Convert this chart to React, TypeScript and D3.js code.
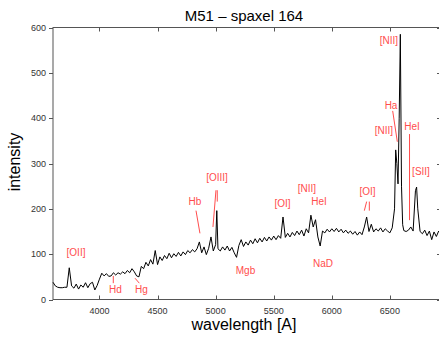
import React, { useEffect, useRef } from 'react';
import * as d3 from 'd3';

const wavelengths = [
  3600, 3620, 3640, 3660, 3680, 3700, 3720, 3740, 3760, 3780, 3800, 3820, 3840, 3860, 3880, 3900, 3920, 3940, 3960, 3980,
  4000, 4020, 4040, 4060, 4080, 4100, 4120, 4140, 4160, 4180, 4200, 4220, 4240, 4260, 4280, 4300, 4320, 4340, 4360, 4380,
  4400, 4420, 4440, 4460, 4480, 4500, 4520, 4540, 4560, 4580, 4600, 4620, 4640, 4660, 4680, 4700, 4720, 4740, 4760, 4780,
  4800, 4820, 4840, 4860, 4880, 4900, 4920, 4940, 4960, 4980, 5000, 5010, 5020, 5040, 5060, 5080, 5100, 5120, 5140, 5160,
  5180, 5200, 5220, 5240, 5260, 5280, 5300, 5320, 5340, 5360, 5380, 5400, 5420, 5440, 5460, 5480, 5500, 5520, 5540, 5560,
  5580, 5600, 5620, 5640, 5660, 5680, 5700, 5720, 5740, 5760, 5780, 5800, 5820, 5840, 5860, 5880, 5900, 5920, 5940, 5960,
  5980, 6000, 6020, 6040, 6060, 6080, 6100, 6120, 6140, 6160, 6180, 6200, 6220, 6240, 6260, 6280, 6300, 6320, 6340, 6360,
  6380, 6400, 6420, 6440, 6460, 6480, 6500, 6520, 6540, 6550, 6560, 6570, 6580, 6590, 6600, 6610, 6620, 6640, 6660, 6680,
  6700, 6720, 6730, 6740, 6760, 6780, 6800, 6820, 6840, 6860, 6880, 6900, 6920, 6940,
];

const intensities = [
  38, 30, 27, 26, 26, 27, 27, 70, 30, 25, 34, 23, 32, 27, 37, 26, 35, 38, 21, 31,
  45, 58, 52, 57, 51, 52, 59, 54, 59, 56, 61, 57, 64, 59, 68, 61, 52, 50, 73, 68,
  82, 74, 88, 78, 108, 77, 94, 86, 97, 90, 102, 92, 101, 95, 104, 96, 105, 99, 108, 103,
  110, 105, 112, 127, 103, 116, 99, 113, 138, 107, 121, 196, 112, 107, 116, 109, 118, 107, 115, 103,
  93, 119, 132, 117, 127, 120, 131, 123, 134, 125, 135, 127, 137, 129, 138, 131, 140, 132, 141, 135,
  182, 137, 146, 138, 148, 141, 151, 143, 153, 140, 156, 147, 186, 160, 176, 138, 118, 151, 147, 155,
  149, 156, 150, 157, 149, 155, 147, 153, 146, 151, 144, 150, 142, 149, 143, 160, 182, 150, 166, 149,
  156, 151, 158, 149, 156, 151, 147, 158, 200, 330, 300, 255, 400, 585, 250, 165, 152, 150, 153, 160,
  151, 240, 248, 200, 150, 145, 153, 141, 151, 132, 149, 139, 151, 145,
];

const xTicks = [4000, 4500, 5000, 5500, 6000, 6500];
const yTicks = [0, 100, 200, 300, 400, 500, 600];

// line identifications: label text and where it sits, in [A] / intensity
const lineLabels = [
  { text: '[OII]', w: 3798, i: 97 },
  { text: 'Hd', w: 4138, i: 14 },
  { text: 'Hg', w: 4362, i: 14 },
  { text: 'Hb', w: 4822, i: 208 },
  { text: '[OIII]', w: 5012, i: 261 },
  { text: 'Mgb', w: 5257, i: 56 },
  { text: '[OI]', w: 5576, i: 204 },
  { text: '[NII]', w: 5786, i: 237 },
  { text: 'HeI', w: 5890, i: 208 },
  { text: 'NaD', w: 5924, i: 72 },
  { text: '[OI]', w: 6307, i: 230 },
  { text: '[NII]', w: 6492, i: 563 },
  { text: 'Ha', w: 6510, i: 420 },
  { text: '[NII]', w: 6449, i: 365 },
  { text: 'HeI', w: 6690, i: 374 },
  { text: '[SII]', w: 6768, i: 274 },
];

// pointer lines from labels to features: [w1, i1, w2, i2]
const pointers = [
  [4119, 52, 4119, 36],
  [4306, 47, 4343, 36],
  [4831, 196, 4865, 146],
  [5003, 241, 4977, 160],
  [5014, 241, 5014, 216],
  [6300, 216, 6280, 196],
  [6323, 216, 6323, 196],
  [6524, 416, 6564, 348],
  [6669, 365, 6669, 175],
];

export default function App() {
  const svgRef = useRef<SVGSVGElement>(null);
  const width = 439;
  const height = 338;

  useEffect(() => {
    if (!svgRef.current) return;
    const svg = d3.select(svgRef.current);
    svg.selectAll('*').remove();

    const x = d3.scaleLinear().domain([3600, 6940]).range([53, 441]);
    const y = d3.scaleLinear().domain([0, 600]).range([299.5, 27.5]);
    const font = '"Liberation Sans", Arial, sans-serif';
    const red = '#ff4d4d';
    const axisColor = '#555';

    // frame
    svg.append('rect')
      .attr('x', x(3600)).attr('y', y(600))
      .attr('width', x(6940) - x(3600)).attr('height', y(0) - y(600))
      .attr('fill', 'none').attr('stroke', axisColor).attr('stroke-width', 1);

    // ticks
    const g = svg.append('g').attr('stroke', axisColor).attr('stroke-width', 1);
    xTicks.forEach(t => {
      const px = Math.round(x(t)) + 0.5;
      g.append('line').attr('x1', px).attr('x2', px).attr('y1', y(0)).attr('y2', y(0) - 4);
      g.append('line').attr('x1', px).attr('x2', px).attr('y1', y(600)).attr('y2', y(600) + 4);
    });
    yTicks.forEach(t => {
      const py = Math.round(y(t)) + 0.5;
      g.append('line').attr('x1', x(3600)).attr('x2', x(3600) - 4).attr('y1', py).attr('y2', py);
      g.append('line').attr('x1', x(6940)).attr('x2', x(6940) - 4).attr('y1', py).attr('y2', py);
    });

    svg.append('g').selectAll('text').data(xTicks).enter().append('text')
      .attr('x', d => x(d)).attr('y', 314)
      .attr('text-anchor', 'middle').attr('font-family', font).attr('font-size', 9)
      .attr('fill', '#333').text(d => d);

    svg.append('g').selectAll('text').data(yTicks).enter().append('text')
      .attr('x', 46).attr('y', d => y(d)).attr('dy', '0.35em')
      .attr('text-anchor', 'end').attr('font-family', font).attr('font-size', 9)
      .attr('fill', '#333').text(d => d);

    // spectrum
    const points = wavelengths.map((w, i) => [w, intensities[i]] as [number, number]);
    const line = d3.line<[number, number]>().x(d => x(d[0])).y(d => y(d[1]));
    svg.append('path')
      .datum(points)
      .attr('fill', 'none').attr('stroke', '#000').attr('stroke-width', 1)
      .attr('d', line);

    // pointer lines
    svg.append('g').selectAll('line').data(pointers).enter().append('line')
      .attr('x1', d => x(d[0])).attr('y1', d => y(d[1]))
      .attr('x2', d => x(d[2])).attr('y2', d => y(d[3]))
      .attr('stroke', red).attr('stroke-width', 1);

    svg.append('g').selectAll('text').data(lineLabels).enter().append('text')
      .attr('x', d => x(d.w)).attr('y', d => y(d.i))
      .attr('text-anchor', 'middle').attr('font-family', font).attr('font-size', 10)
      .attr('fill', red).text(d => d.text);

    // titles
    svg.append('text')
      .attr('x', 244).attr('y', 21).attr('text-anchor', 'middle')
      .attr('font-family', font).attr('font-size', 15).attr('fill', '#000')
      .text('M51 – spaxel 164');

    svg.append('text')
      .attr('x', 244).attr('y', 330).attr('text-anchor', 'middle')
      .attr('font-family', font).attr('font-size', 16).attr('fill', '#000')
      .text('wavelength [A]');

    svg.append('text')
      .attr('transform', 'translate(20, 162) rotate(-90)').attr('text-anchor', 'middle')
      .attr('font-family', font).attr('font-size', 16).attr('fill', '#000')
      .text('intensity');
  }, []);

  return (
    <div style={{ position: 'absolute', left: 0, top: 0, width, height, background: '#fff' }}>
      <svg ref={svgRef} width={width} height={height} viewBox={`0 0 ${width} ${height}`} />
    </div>
  );
}
